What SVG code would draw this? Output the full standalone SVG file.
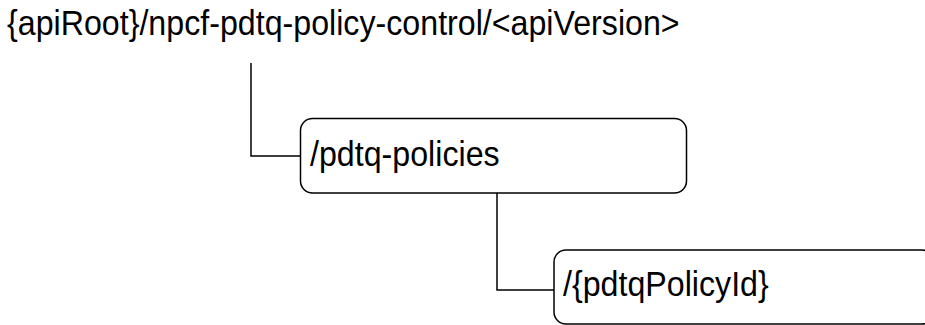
<svg xmlns="http://www.w3.org/2000/svg" width="925" height="325" viewBox="0 0 925 325">
<style>
.box{fill:#fff;stroke:#000;stroke-width:1.5}
.conn{fill:none;stroke:#000;stroke-width:1.5}
.lbl{font-family:"Liberation Sans",Arial,sans-serif;font-size:35px;fill:#000}
</style>
<rect width="925" height="325" fill="#fff"/>
<g id="connectors">
<path class="conn" d="M251,63 V156 H300.5"/>
<path class="conn" d="M497,193 V290 H554"/>
</g>
<g id="root">
<text class="lbl" transform="translate(7,35) scale(0.92,1)">{apiRoot}/npcf-pdtq-policy-control/&lt;apiVersion&gt;</text>
</g>
<g id="pdtq-policies">
<rect class="box" x="300.5" y="118.5" width="386" height="74.5" rx="12"/>
<text class="lbl" transform="translate(310,166) scale(0.92,1)">/pdtq-policies</text>
</g>
<g id="pdtqPolicyId">
<rect class="box" x="554" y="250" width="380" height="74" rx="12"/>
<text class="lbl" transform="translate(563,296) scale(0.92,1)">/{pdtqPolicyId}</text>
</g>
</svg>
